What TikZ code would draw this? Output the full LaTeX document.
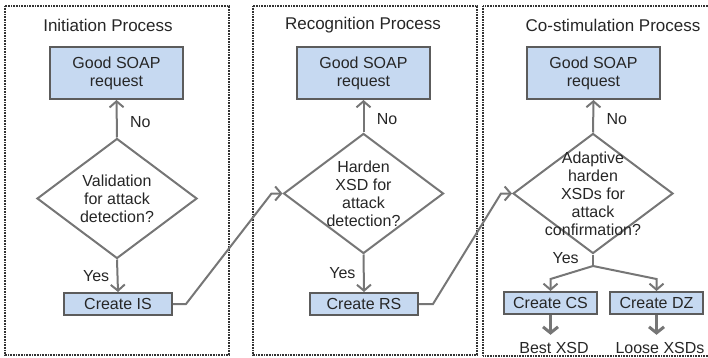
\documentclass[tikz,border=0pt]{standalone}
\usepackage{fontspec}
\setmainfont{Liberation Sans}
\usetikzlibrary{shapes.geometric,arrows.meta,calc}
\definecolor{boxblue}{RGB}{198,217,241}
\definecolor{edgegray}{RGB}{92,92,92}
\definecolor{linegray}{RGB}{118,118,118}
\tikzset{lbl/.style={font=\fontsize{16}{18}\selectfont,text=black!85,align=center},
    ttl/.style={font=\fontsize{17}{19}\selectfont,text=black!85},
    pbox/.style={lbl,rectangle,draw=edgegray,fill=boxblue,line width=2pt,inner sep=0pt},
    good/.style={pbox,minimum width=133pt,minimum height=52pt},
    create/.style={pbox,minimum height=22pt},
    dec/.style={diamond,draw=linegray,line width=2pt,minimum width=160pt,minimum height=120pt,inner sep=0pt},
    frame/.style={draw=black!80,line width=1.3pt,dash pattern=on 0.8pt off 0.8pt},
    flow/.style={draw=linegray,line width=2pt,-{Straight Barb[length=6pt,width=14pt]}},
    bigflow/.style={flow,line width=3pt,-{Straight Barb[length=6pt,width=15pt]}}}

\begin{document}
\begin{tikzpicture}[x=1pt,y=-1pt]
    \useasboundingbox (0,0) rectangle (708,358);

    \draw [frame] (5,6) rectangle (229,355);
    \draw [frame] (253,6) rectangle (477,355);
    \draw [frame] (483,6) rectangle (712,356);

    \node[ttl] (t1) at (108,25) {Initiation Process};
    \node[ttl] (t2) at (363,25) {Recognition Process};
    \node[ttl] (t3) at (613,25) {Co-stimulation Process};

    \node[good] (g1) at (116.5,73) {Good SOAP\\request};
    \node[good] (g2) at (363.5,73) {Good SOAP\\request};
    \node[good] (g3) at (593.5,73) {Good SOAP\\request};

    \node[dec,label={[lbl]center:Validation\\for attack\\detection?}] (q1) at (117,198.5) {};
    \node[dec,label={[lbl]center:Harden\\XSD for\\attack\\detection?}] (q2) at (363.5,193.5) {};
    \node[dec,label={[lbl]center:Adaptive\\harden\\XSDs for\\attack\\confirmation?}] (q3) at (593,193.5) {};

    \node[create,minimum width=108pt] (c1) at (118,304) {Create IS};
    \node[create,minimum width=108pt] (c2) at (364,304) {Create RS};
    \node[create,minimum width=93pt] (cs) at (550.5,303) {Create CS};
    \node[create,minimum width=93pt] (dz) at (656.5,303) {Create DZ};

    \node[lbl] (bx) at (554,348) {Best XSD};
    \node[lbl] (lx) at (660,348) {Loose XSDs};
    \coordinate (fk) at (593,266);

    \draw [flow] (q1.north) to node[lbl,right=9pt,pos=0.4]{No} (g1.south);
    \draw [flow] (q1.south) to node[lbl,left=4pt]{Yes} (c1.north);
    \draw [flow] (q2.north) to node[lbl,right=9pt,pos=0.4]{No} (g2.south);
    \draw [flow] (q2.south) to node[lbl,left=4pt]{Yes} (c2.north);
    \draw [flow] (q3.north) to node[lbl,right=9pt,pos=0.4]{No} (g3.south);
    \draw [draw=linegray,line width=2pt] (q3.south) to node[lbl,left=10pt,pos=0.3]{Yes} (fk);
    \draw [flow] (fk) -- ($(cs.north)+(0,-12)$) -- (cs.north);
    \draw [flow] (fk) -- ($(dz.north)+(0,-12)$) -- (dz.north);

    \draw [flow] (c1.east) -- ++(13,0) -- ($(q2.west)+(-11,0)$) -- (q2.west);
    \draw [flow] (c2.east) -- ++(14,0) -- ($(q3.west)+(-11,0)$) -- (q3.west);

    \draw [bigflow] (cs.south) -- ($(cs.south |- bx.north)+(0,-4)$);
    \draw [bigflow] (dz.south) -- ($(dz.south |- lx.north)+(0,-4)$);
\end{tikzpicture}
\end{document}
